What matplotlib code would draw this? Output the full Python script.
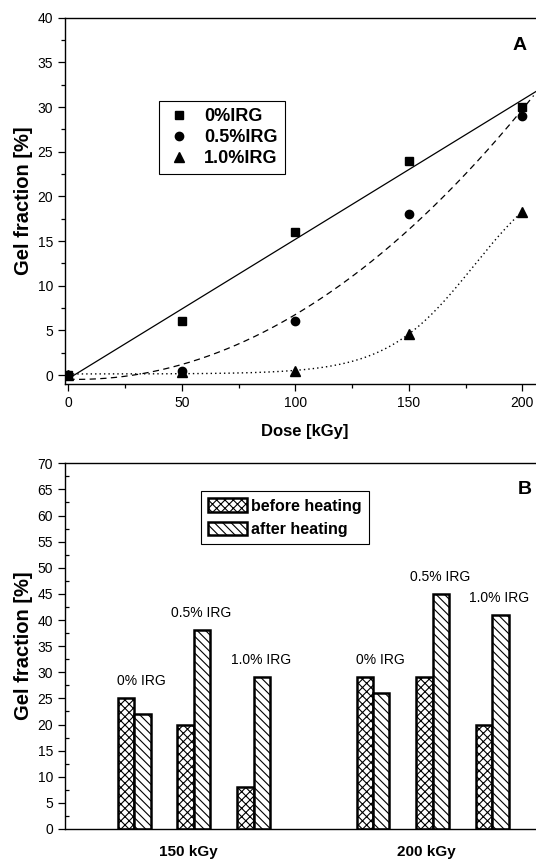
import numpy as np
import matplotlib
matplotlib.use('Agg')
import matplotlib.pyplot as plt
from matplotlib.patches import Patch
from matplotlib.lines import Line2D

plt.rcParams['font.family'] = ['Liberation Sans', 'DejaVu Sans']
plt.rcParams['hatch.linewidth'] = 0.8

# panel A: gel fraction vs dose
dose = [0, 50, 100, 150, 200]
irg0 = [0, 6, 16, 24, 30]
irg05 = [0, 0.5, 6, 18, 29]
irg10 = [0, 0.3, 0.5, 4.6, 18.3]

# panel B: before / after heating
groups = ['150 kGy', '200 kGy']
irg_labels = ['0% IRG', '0.5% IRG', '1.0% IRG']
before = [25, 20, 8, 29, 29, 20]
after = [22, 38, 29, 26, 45, 41]

W, H = 536, 861


def frac(l, b, r, t):
    return [l / W, 1 - b / H, (r - l) / W, (b - t) / H]


def boltzmann_fit(x, y):
    # grid search on x0, dx, linear least squares for A1, A2
    x = np.asarray(x, float)
    y = np.asarray(y, float)
    best = None
    for x0 in np.arange(120, 260, 0.5):
        for dx in np.arange(5, 60, 0.25):
            f = 1 / (1 + np.exp((x - x0) / dx))
            A = np.column_stack([f, 1 - f])
            coef = np.linalg.lstsq(A, y, rcond=None)[0]
            r = np.sum((A @ coef - y) ** 2)
            if best is None or r < best[0]:
                best = (r, x0, dx, coef)
    _, x0, dx, (a1, a2) = best
    return lambda t: a2 + (a1 - a2) / (1 + np.exp((t - x0) / dx))


fig = plt.figure(figsize=(W / 100, H / 100), dpi=100)

# ---------- A ----------
ax1 = fig.add_axes(frac(65, 384, 545, 17.7))
p1 = np.polyfit(dose, irg0, 1)
p2 = np.polyfit(dose, irg05, 2)
f3 = boltzmann_fit(dose, irg10)
xa = np.linspace(0, 212, 400)
xb = np.linspace(0, 205, 400)
xc = np.linspace(0, 200, 400)
ax1.plot(xa, np.polyval(p1, xa), color='black', lw=0.9)
ax1.plot(xb, np.polyval(p2, xb), color='black', lw=0.9, dashes=(5, 3.5))
ax1.plot(xc, f3(xc), color='black', lw=1.0, dashes=(1, 2.2))
ax1.plot(dose, irg0, 's', color='black', ms=5.5, ls='none')
ax1.plot(dose, irg05, 'o', color='black', ms=6, ls='none')
ax1.plot(dose, irg10, '^', color='black', ms=6.5, ls='none')

ax1.set_xlim(-1.5, 210)
ax1.set_ylim(-1, 40)
ax1.set_xticks([0, 50, 100, 150, 200])
ax1.set_xticks(np.arange(25, 210, 50), minor=True)
ax1.set_yticks(np.arange(0, 41, 5))
ax1.set_yticks(np.arange(2.5, 40, 5), minor=True)
ax1.tick_params(which='major', direction='out', length=5, width=0.9, labelsize=10)
ax1.tick_params(which='minor', direction='out', length=3, width=0.9)
for s in ax1.spines.values():
    s.set_linewidth(1.0)
ax1.set_xlabel('Dose [kGy]', fontsize=12, weight='bold', labelpad=10)
ax1.set_ylabel('Gel fraction [%]', fontsize=14.5, weight='bold', labelpad=3)

handles = [Line2D([], [], marker='s', color='black', ls='none', ms=5.5),
           Line2D([], [], marker='o', color='black', ls='none', ms=6),
           Line2D([], [], marker='^', color='black', ls='none', ms=6.5)]
leg = ax1.legend(handles, ['0%IRG', '0.5%IRG', '1.0%IRG'],
                 loc='upper left', bbox_to_anchor=(159 / W, 1 - 101 / H),
                 bbox_transform=fig.transFigure, borderaxespad=0,
                 prop={'weight': 'bold', 'size': 13}, frameon=True,
                 fancybox=False, edgecolor='black', framealpha=1,
                 handlelength=1.4, handletextpad=0.7, labelspacing=0.22,
                 borderpad=0.4)
leg.get_frame().set_linewidth(0.8)
fig.text(520 / W, 1 - 46 / H, 'A', ha='center', va='center', fontsize=14, weight='bold')

# ---------- B ----------
ax2 = fig.add_axes(frac(65, 829, 552, 463.3))
pos = np.array([1, 2, 3, 5, 6, 7], float)
w = 0.275
ax2.bar(pos - w / 2, before, w, facecolor='white', edgecolor='black', lw=1.8, hatch='xxxx')
ax2.bar(pos + w / 2, after, w, facecolor='white', edgecolor='black', lw=1.8, hatch='\\\\\\\\')
for k in range(len(pos)):
    ax2.text(pos[k] + 0.12, max(before[k], after[k]) + 3.3, irg_labels[k % 3],
             ha='center', va='center', fontsize=10)
for g, name in enumerate(groups):
    ax2.text(pos[g * 3:g * 3 + 3].mean() - 0.1, -4.4, name, ha='center', va='center',
             fontsize=11, weight='bold', clip_on=False)

ax2.set_xlim(-0.16, 8)
ax2.set_ylim(0, 70)
ax2.set_xticks([])
ax2.set_yticks(np.arange(0, 71, 5))
ax2.set_yticks(np.arange(2.5, 70, 5), minor=True)
ax2.tick_params(which='major', direction='out', length=5, width=0.9, labelsize=10)
ax2.tick_params(which='minor', direction='in', length=3, width=0.9)
for s in ax2.spines.values():
    s.set_linewidth(1.0)
ax2.set_ylabel('Gel fraction [%]', fontsize=14.5, weight='bold', labelpad=3)

hb = [Patch(facecolor='white', edgecolor='black', lw=1.8, hatch='xxxx'),
      Patch(facecolor='white', edgecolor='black', lw=1.8, hatch='\\\\\\\\')]
leg2 = ax2.legend(hb, ['before heating', 'after heating'],
                  loc='upper left', bbox_to_anchor=(201 / W, 1 - 491 / H),
                  bbox_transform=fig.transFigure, borderaxespad=0,
                  prop={'weight': 'bold', 'size': 11.5}, frameon=True,
                  fancybox=False, edgecolor='black', framealpha=1,
                  handlelength=2.4, handleheight=0.95, handletextpad=0.3,
                  labelspacing=0.5, borderpad=0.45)
leg2.get_frame().set_linewidth(0.8)
fig.text(525 / W, 1 - 489 / H, 'B', ha='center', va='center', fontsize=14, weight='bold')

fig.savefig('out.png', dpi=100)
